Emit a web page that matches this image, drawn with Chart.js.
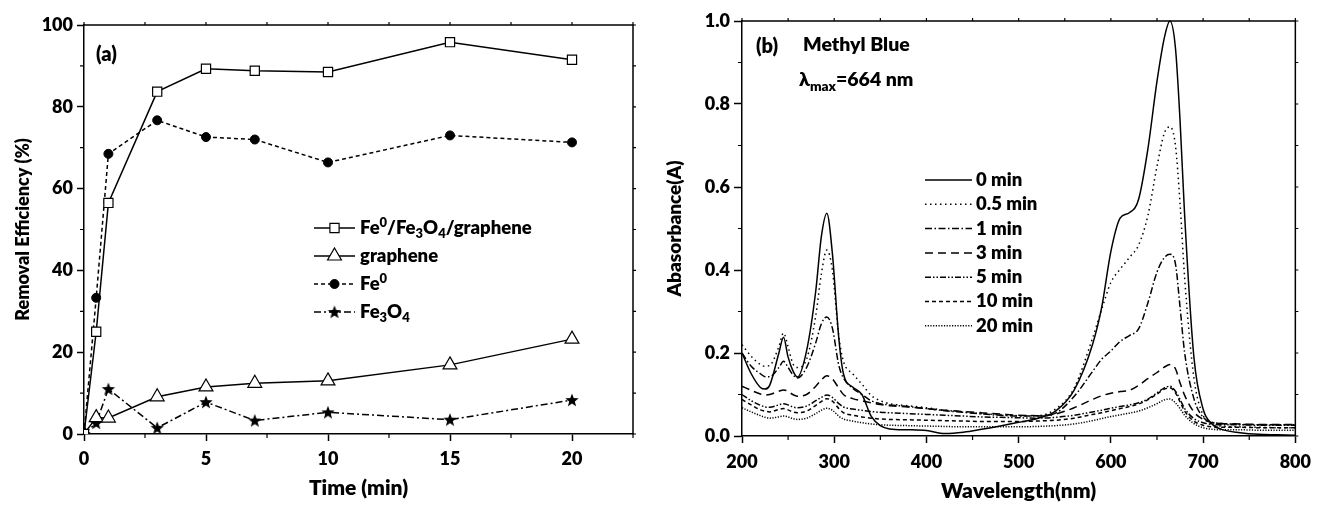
<!DOCTYPE html>
<html>
<head>
<meta charset="utf-8">
<script src="https://cdn.jsdelivr.net/npm/chart.js@4.4.1/dist/chart.umd.min.js"></script>
<style>
  html, body { margin: 0; padding: 0; background: #fff; }
  #wrap { position: relative; width: 1319px; height: 505px; }
  #removalChart { position: absolute; left: 0; top: 0; }
  #spectraChart { position: absolute; left: 650px; top: 0; }
</style>
</head>
<body>
<div id="wrap">
  <canvas id="removalChart" width="650" height="505"></canvas>
  <canvas id="spectraChart" width="669" height="505"></canvas>
</div>
<script>
const FONT = 'Lato, "Open Sans", sans-serif';
const WEIGHT = '800';

// ---- panel (a): removal efficiency vs time ----
const timeMin = [0, 0.5, 1, 3, 5, 7, 10, 15, 20];
const compositeEff = [0, 25, 56.5, 83.7, 89.3, 88.8, 88.5, 95.8, 91.5];
const grapheneEff = [0, 4, 3.9, 9.1, 11.5, 12.4, 13, 16.9, 23.2];
const fe0Eff = [0, 33.3, 68.5, 76.7, 72.6, 72, 66.4, 73, 71.3];
const fe3o4Eff = [0, 2.7, 11, 1.5, 7.8, 3.3, 5.3, 3.5, 8.3];
const timeTicks = [0, 5, 10, 15, 20];
const timeMinor = [2.5, 7.5, 12.5, 17.5, 22.5];
const effTicks = [0, 20, 40, 60, 80, 100];
const effMinor = [10, 30, 50, 70, 90];
const legendNamesA = [
  [['Fe'], ['0', 'sup'], ['/Fe'], ['3', 'sub'], ['O'], ['4', 'sub'], ['/graphene']],
  [['graphene']],
  [['Fe'], ['0', 'sup']],
  [['Fe'], ['3', 'sub'], ['O'], ['4', 'sub']]
];

// ---- panel (b): UV-vis spectra ----
const wavelengths = [200, 210, 220, 225, 230, 240, 245, 250, 255, 260,
  270, 280, 286, 292, 298, 305, 310, 320, 330, 340,
  350, 360, 380, 400, 420, 440, 460, 480, 500, 520,
  540, 560, 580, 590, 600, 610, 620, 630, 640, 650,
  658, 664, 670, 675, 680, 690, 700, 710, 720, 740,
  760, 780, 800];
const abs0min = [.200, .150, .117, .113, .122, .200, .238, .190, .158, .142,
  .205, .350, .480, .537, .440, .235, .150, .118, .100, .048,
  .025, .017, .015, .013, .006, .009, .016, .024, .033, .042,
  .060, .110, .220, .310, .445, .525, .538, .570, .690, .855,
  .960, 1.000, .935, .760, .530, .190, .065, .028, .016, .008,
  .004, .003, .002];
const abs05min = [.220, .192, .172, .168, .170, .215, .248, .215, .175, .165,
  .185, .290, .390, .448, .400, .240, .180, .150, .125, .098,
  .085, .078, .073, .068, .062, .058, .054, .051, .049, .049,
  .065, .115, .235, .305, .370, .402, .430, .460, .530, .650,
  .730, .745, .700, .560, .380, .140, .050, .028, .024, .022,
  .021, .020, .020];
const abs1min = [.200, .168, .150, .143, .143, .165, .180, .165, .148, .140,
  .165, .225, .270, .287, .260, .170, .140, .115, .100, .085,
  .078, .075, .071, .066, .061, .057, .053, .050, .048, .048,
  .055, .095, .155, .185, .205, .228, .242, .258, .320, .395,
  .430, .438, .415, .310, .200, .090, .045, .033, .030, .028,
  .027, .027, .027];
const abs3min = [.120, .110, .101, .099, .100, .108, .111, .108, .100, .096,
  .100, .120, .135, .145, .138, .115, .100, .090, .085, .080,
  .076, .073, .070, .066, .062, .059, .056, .053, .050, .049,
  .053, .068, .088, .097, .103, .107, .110, .122, .138, .153,
  .166, .172, .162, .128, .098, .058, .040, .032, .030, .029,
  .028, .028, .028];
const abs5min = [.100, .085, .074, .070, .069, .075, .078, .075, .070, .068,
  .072, .085, .093, .099, .093, .078, .070, .065, .062, .059,
  .057, .056, .054, .052, .050, .048, .046, .045, .044, .043,
  .045, .050, .058, .062, .067, .071, .075, .080, .089, .104,
  .116, .120, .108, .088, .066, .042, .032, .028, .027, .027,
  .026, .026, .026];
const abs10min = [.088, .075, .063, .060, .058, .064, .066, .063, .058, .056,
  .060, .074, .083, .090, .084, .066, .056, .050, .046, .043,
  .041, .040, .039, .038, .037, .036, .035, .035, .035, .036,
  .038, .043, .052, .056, .061, .066, .071, .077, .087, .101,
  .113, .116, .104, .082, .060, .036, .026, .022, .021, .021,
  .020, .020, .020];
const abs20min = [.068, .058, .049, .045, .043, .046, .048, .046, .042, .040,
  .043, .054, .062, .067, .062, .048, .041, .036, .032, .029,
  .027, .026, .025, .024, .023, .022, .022, .022, .022, .023,
  .025, .029, .037, .042, .047, .051, .055, .060, .068, .078,
  .087, .089, .080, .066, .050, .030, .020, .016, .015, .015,
  .014, .014, .014];
const spectraLabels = ['0 min', '0.5 min', '1 min', '3 min', '5 min', '10 min', '20 min'];
const wlTicks = [200, 300, 400, 500, 600, 700, 800];
const wlMinor = [250, 350, 450, 550, 650, 750];
const absTicks = [0, 0.2, 0.4, 0.6, 0.8, 1.0];
const absMinor = [0.1, 0.3, 0.5, 0.7, 0.9];

Chart.defaults.font.family = FONT;
Chart.defaults.font.weight = WEIGHT;
Chart.defaults.color = '#000';

function toPoints(xs, ys) {
  return xs.map((x, i) => ({ x: x, y: ys[i] }));
}

function makeStar(r) {
  const c = document.createElement('canvas');
  const s = Math.ceil(r * 2 + 2);
  c.width = s; c.height = s;
  const g = c.getContext('2d');
  g.translate(s / 2, s / 2 + 0.5);
  g.beginPath();
  for (let i = 0; i < 10; i++) {
    const rad = i % 2 ? r * 0.42 : r;
    const ang = -Math.PI / 2 + i * Math.PI / 5;
    g.lineTo(rad * Math.cos(ang), rad * Math.sin(ang));
  }
  g.closePath();
  g.fillStyle = '#000';
  g.fill();
  return c;
}
const starImg = makeStar(7);

function drawRich(ctx, x, y, segs, size) {
  let cx = x;
  ctx.textBaseline = 'middle';
  ctx.textAlign = 'left';
  segs.forEach(([t, mode]) => {
    const s = mode ? size * 0.7 : size;
    ctx.font = `${WEIGHT} ${s}px ${FONT}`;
    const dy = mode === 'sub' ? size * 0.32 : mode === 'sup' ? -size * 0.3 : 0;
    ctx.fillText(t, cx, y + dy);
    cx += ctx.measureText(t).width;
  });
}

// box frame + minor ticks
const framePlugin = {
  id: 'frame',
  afterDraw(chart, args, o) {
    const { ctx, chartArea: a, scales: { x, y } } = chart;
    ctx.save();
    ctx.strokeStyle = '#000';
    ctx.lineWidth = 1.5;
    ctx.beginPath();
    ctx.moveTo(a.left, a.top);
    ctx.lineTo(a.right, a.top);
    ctx.lineTo(a.right, a.bottom);
    ctx.stroke();
    ctx.lineWidth = 1.2;
    ctx.beginPath();
    o.xMinor.forEach(v => {
      const px = x.getPixelForValue(v);
      ctx.moveTo(px, a.bottom); ctx.lineTo(px, a.bottom + o.minorLen);
    });
    o.yMinor.forEach(v => {
      const py = y.getPixelForValue(v);
      ctx.moveTo(a.left, py); ctx.lineTo(a.left - o.minorLen, py);
    });
    o.xMinor.concat(o.xMajor).forEach(v => {
      const px = x.getPixelForValue(v);
      ctx.moveTo(px, a.top); ctx.lineTo(px, a.top - 3);
    });
    o.yMinor.concat(o.yMajor).forEach(v => {
      const py = y.getPixelForValue(v);
      ctx.moveTo(a.right, py); ctx.lineTo(a.right + 3, py);
    });
    ctx.stroke();
    ctx.restore();
  }
};

// free text labels inside the plots
const notesPlugin = {
  id: 'notes',
  afterDraw(chart, args, o) {
    const { ctx } = chart;
    ctx.save();
    ctx.fillStyle = '#000';
    o.items.forEach(it => drawRich(ctx, it.x, it.y, it.segs, it.size));
    ctx.restore();
  }
};

// legend with line sample + marker (panel a) or dashed sample (panel b)
const sampleLegend = {
  id: 'sampleLegend',
  afterDatasetsDraw(chart, args, o) {
    const { ctx } = chart;
    ctx.save();
    chart.data.datasets.forEach((ds, i) => {
      const y = o.top + i * o.step;
      ctx.strokeStyle = '#000';
      ctx.lineWidth = 1.5;
      ctx.setLineDash(ds.borderDash || []);
      ctx.beginPath();
      ctx.moveTo(o.x, y);
      ctx.lineTo(o.x + o.len, y);
      ctx.stroke();
      ctx.setLineDash([]);
      if (ds.pointRadius) {
        ctx.fillStyle = ds.pointBackgroundColor;
        ctx.lineWidth = ds.pointBorderWidth;
        Chart.helpers.drawPoint(ctx, {
          pointStyle: ds.pointStyle, radius: ds.pointRadius,
          borderWidth: ds.pointBorderWidth, rotation: 0
        }, o.x + o.len / 2, y);
      }
      ctx.fillStyle = '#000';
      drawRich(ctx, o.x + o.len + o.gap, y, o.names[i], o.size);
    });
    ctx.restore();
  }
};

function axisCommon(ticksArr, fmt, tickLen, pad) {
  return {
    type: 'linear',
    afterBuildTicks: s => { s.ticks = ticksArr.map(v => ({ value: v })); },
    ticks: { font: { size: 18, weight: WEIGHT }, color: '#000', padding: pad, maxRotation: 0, callback: fmt },
    grid: { drawOnChartArea: false, tickLength: tickLen, tickWidth: 1.5, tickColor: '#000' },
    border: { color: '#000', width: 1.5 }
  };
}

// ---------------- panel (a) ----------------
const xA = axisCommon(timeTicks, v => String(v), 7, 7);
xA.min = 0; xA.max = 22.5;
xA.afterFit = s => { s.height = 71; };
xA.title = { display: true, text: 'Time (min)', font: { size: 21, weight: WEIGHT }, color: '#000', padding: { top: 0, bottom: 4 } };
const yA = axisCommon(effTicks, v => String(v), 7, 4);
yA.min = 0; yA.max = 100;
yA.afterFit = s => { s.width = 84; };
yA.title = { display: true, text: 'Removal Efficiency (%)', font: { size: 18, weight: WEIGHT }, color: '#000', padding: { top: 12, bottom: 0 } };

new Chart(document.getElementById('removalChart'), {
  type: 'line',
  data: {
    datasets: [
      {
        data: toPoints(timeMin, compositeEff), borderColor: '#000', borderWidth: 1.5,
        pointStyle: 'rect', pointRadius: 6.5, pointBackgroundColor: '#fff', pointBorderColor: '#000', pointBorderWidth: 1.2
      },
      {
        data: toPoints(timeMin, grapheneEff), borderColor: '#000', borderWidth: 1.5,
        pointStyle: 'triangle', pointRadius: 8, pointBackgroundColor: '#fff', pointBorderColor: '#000', pointBorderWidth: 1.2
      },
      {
        data: toPoints(timeMin, fe0Eff), borderColor: '#000', borderWidth: 1.5, borderDash: [4, 3],
        pointStyle: 'circle', pointRadius: 4.5, pointBackgroundColor: '#000', pointBorderColor: '#000', pointBorderWidth: 1
      },
      {
        data: toPoints(timeMin, fe3o4Eff), borderColor: '#000', borderWidth: 1.5, borderDash: [7, 3, 2, 3],
        pointStyle: starImg, pointRadius: 7, pointBackgroundColor: '#000', pointBorderColor: '#000', pointBorderWidth: 1
      }
    ]
  },
  options: {
    responsive: false,
    animation: false,
    devicePixelRatio: 1,
    layout: { padding: { left: 0, right: 17, top: 25, bottom: 0 } },
    plugins: {
      legend: { display: false },
      tooltip: { enabled: false },
      frame: { xMinor: timeMinor, yMinor: effMinor, xMajor: timeTicks, yMajor: effTicks, minorLen: 4 },
      notes: { items: [{ x: 96, y: 55, size: 20, segs: [['(a)']] }] },
      sampleLegend: { x: 314, len: 41, gap: 5, top: 228, step: 28, size: 18.5, names: legendNamesA }
    },
    scales: { x: xA, y: yA }
  },
  plugins: [framePlugin, notesPlugin, sampleLegend]
});

// ---------------- panel (b) ----------------
const xB = axisCommon(wlTicks, v => String(v), 7, 8);
xB.min = 200; xB.max = 800;
xB.afterFit = s => { s.height = 69; };
xB.title = { display: true, text: 'Wavelength(nm)', font: { size: 21, weight: WEIGHT }, color: '#000', padding: { top: 0, bottom: 1 } };
const yB = axisCommon(absTicks, v => v.toFixed(1), 8, 4);
yB.min = 0; yB.max = 1;
yB.afterFit = s => { s.width = 92; };
yB.title = { display: true, text: 'Abasorbance(A)', font: { size: 19, weight: WEIGHT }, color: '#000', padding: { top: 13, bottom: 0 } };

const spectraSeries = [abs0min, abs05min, abs1min, abs3min, abs5min, abs10min, abs20min];
const spectraDash = [[], [1.5, 3.5], [7, 2.5, 1.5, 2.5], [8, 5], [6, 2, 1.5, 2, 1.5, 2], [4, 3], [1.2, 1.5]];

new Chart(document.getElementById('spectraChart'), {
  type: 'line',
  data: {
    datasets: spectraSeries.map((s, i) => ({
      label: spectraLabels[i],
      data: toPoints(wavelengths, s),
      borderColor: '#000',
      borderWidth: 1.5,
      borderDash: spectraDash[i],
      pointRadius: 0,
      cubicInterpolationMode: 'monotone',
      clip: 4
    }))
  },
  options: {
    responsive: false,
    animation: false,
    devicePixelRatio: 1,
    layout: { padding: { left: 0, right: 21, top: 21, bottom: 0 } },
    plugins: {
      legend: { display: false },
      tooltip: { enabled: false },
      frame: { xMinor: wlMinor, yMinor: absMinor, xMajor: wlTicks, yMajor: absTicks, minorLen: 4 },
      notes: {
        items: [
          { x: 106, y: 47, size: 20, segs: [['(b)']] },
          { x: 153, y: 45, size: 19.5, segs: [['Methyl Blue']] },
          { x: 149, y: 80, size: 19.5, segs: [['λ'], ['max', 'sub'], ['=664 nm']] }
        ]
      },
      sampleLegend: { x: 275, len: 47, gap: 4, top: 180, step: 24.3, size: 18.5, names: spectraLabels.map(t => [[t]]) }
    },
    scales: { x: xB, y: yB }
  },
  plugins: [framePlugin, notesPlugin, sampleLegend]
});
</script>
</body>
</html>
